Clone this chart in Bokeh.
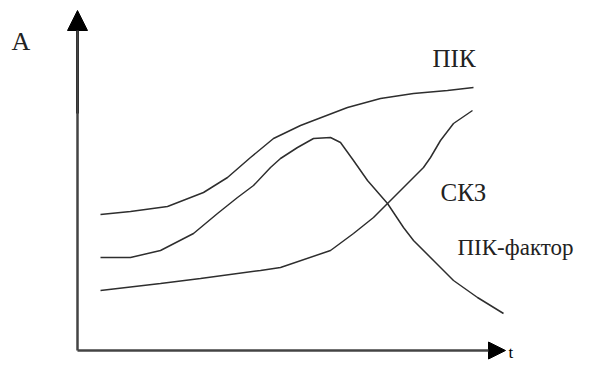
from bokeh.plotting import figure
from bokeh.models import Range1d, Arrow, NormalHead, Label
from bokeh.embed import file_html
from bokeh.resources import INLINE

# Curve values (t, A), origin at the axes' corner
t_pik = [23, 53, 90, 126, 150, 173, 196, 223, 236, 270, 303, 336, 370, 396]
a_pik = [136, 139, 144, 158, 173, 193, 212, 225, 230, 243, 252, 257, 260, 263]

t_peak = [23, 53, 83, 116, 140, 160, 176, 193, 203, 220, 236, 253, 263, 276,
          290, 310, 326, 336, 356, 376, 400, 426]
a_peak = [93, 93, 100, 117, 137, 153, 165, 183, 192, 203, 212, 213, 208, 190,
          170, 147, 123, 110, 90, 70, 53, 37]

t_rise = [23, 83, 123, 183, 203, 253, 276, 296, 310, 330, 346, 353, 363, 376, 395]
a_rise = [60, 67, 72, 80, 83, 100, 117, 133, 147, 167, 183, 193, 210, 227, 240]

labels = ["ПІК", "СКЗ", "ПІК-фактор"]
axis_y_label = "A"
axis_x_label = "t"

p = figure(width=576, height=362,
           x_range=Range1d(-77, 499), y_range=Range1d(-12, 350),
           output_backend="svg", toolbar_location=None, min_border=0,
           x_axis_location=None, y_axis_location=None)
p.grid.visible = False
p.outline_line_color = None
p.background_fill_color = "white"
p.border_fill_color = "white"

line_col = "#2e2e2e"
p.line(t_pik, a_pik, line_color=line_col, line_width=1.5)
p.line(t_peak, a_peak, line_color=line_col, line_width=1.5)
p.line(t_rise, a_rise, line_color=line_col, line_width=1.5)

# axes with arrow heads
p.add_layout(Arrow(x_start=0, y_start=0, x_end=0, y_end=340,
                   line_color="#444444", line_width=2.5,
                   end=NormalHead(size=20, fill_color="black", line_color="black")))
p.add_layout(Arrow(x_start=0, y_start=0, x_end=428, y_end=0,
                   line_color="#444444", line_width=2.5,
                   end=NormalHead(size=17, fill_color="black", line_color="black")))
p.segment(x0=[0], y0=[237], x1=[0], y1=[322], line_color="black", line_width=3)

font = "Liberation Serif"
fs = "25px"
col = "#222222"
p.add_layout(Label(x=355, y=292, text=labels[0], text_font=font, text_font_size=fs,
                   text_baseline="alphabetic", text_color=col))
p.add_layout(Label(x=363, y=158, text=labels[1], text_font=font, text_font_size=fs,
                   text_baseline="alphabetic", text_color=col))
p.add_layout(Label(x=496, y=103, text=labels[2], text_font=font, text_font_size="23px",
                   text_align="right", text_baseline="alphabetic", text_color=col))
p.add_layout(Label(x=-66, y=309, text=axis_y_label, text_font=font, text_font_size="26px",
                   text_baseline="alphabetic", text_color=col))
p.add_layout(Label(x=431, y=-11, text=axis_x_label, text_font=font, text_font_size="17px",
                   text_baseline="bottom", text_color="black"))

open("out.html", "w").write(file_html(p, INLINE))
